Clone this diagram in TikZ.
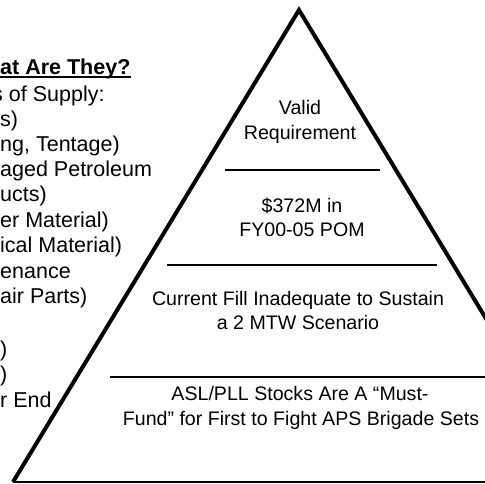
\documentclass[tikz,border=0pt]{standalone}
\usepackage{fontspec}
\setmainfont{Liberation Sans}
\begin{document}
\begin{tikzpicture}[x=1pt,y=-1pt,
  lefttext/.style={anchor=base west, inner sep=0pt, font=\fontsize{21.5}{25}\selectfont},
  pyrtext/.style={anchor=base, inner sep=0pt, font=\fontsize{19.6}{24.5}\selectfont},
  sepline/.style={line width=2pt},
  edge/.style={line width=4pt, line join=miter}]
\useasboundingbox (0,0) rectangle (485,483);
\clip (0,0) rectangle (485,483);
% pyramid
\coordinate (apex) at (299,10);
\coordinate (bl) at (13,482);
\coordinate (br) at (585,482);
\draw[edge] (bl) -- (apex) -- (br);
\draw[line width=1.5pt] (bl) -- (br);
% separators
\coordinate (s1a) at (225,170); \coordinate (s1b) at (380,170);
\coordinate (s2a) at (167,265); \coordinate (s2b) at (437,265);
\coordinate (s3a) at (110,377); \coordinate (s3b) at (490,377);
\draw[sepline] (s1a) -- (s1b);
\draw[sepline] (s2a) -- (s2b);
\draw[sepline] (s3a) -- (s3b);
% pyramid texts
\node[pyrtext] (v1) at (300,114) {Valid};
\node[pyrtext] (v2) at (300,139) {Requirement};
\node[pyrtext] (m1) at (302,212) {\$372M in};
\node[pyrtext] (m2) at (302,236) {FY00-05 POM};
\node[pyrtext] (c1) at (298,305) {Current Fill Inadequate to Sustain};
\node[pyrtext] (c2) at (298,329) {a 2 MTW Scenario};
\node[pyrtext] (a1) at (300,400) {ASL/PLL Stocks Are A “Must-};
\node[pyrtext] (a2) at (301,425) {Fund” for First to Fight APS Brigade Sets};
% left texts (cut by the picture's edge)
\node[lefttext, font=\bfseries\fontsize{21.5}{25}\selectfont] (t0) at (0,74) {at Are They?};
\draw[line width=1.5pt] ([yshift=-3pt]t0.base west) -- ([yshift=-3pt]t0.base east);
\node[lefttext] (t1) at (-8,101) {s of Supply:};
\node[lefttext] (t2) at (0,126) {s)};
\node[lefttext] (t3) at (0,151) {ng, Tentage)};
\node[lefttext] (t4) at (0,176) {aged Petroleum};
\node[lefttext] (t5) at (0,201) {ucts)};
\node[lefttext] (t6) at (0,227) {er Material)};
\node[lefttext] (t7) at (0,252) {ical Material)};
\node[lefttext] (t8) at (0,278) {enance};
\node[lefttext] (t9) at (0,303) {air Parts)};
\node[lefttext] (t10) at (0,356) {)};
\node[lefttext] (t11) at (0,381) {)};
\node[lefttext] (t12) at (0,407) {r End};
\end{tikzpicture}
\end{document}
